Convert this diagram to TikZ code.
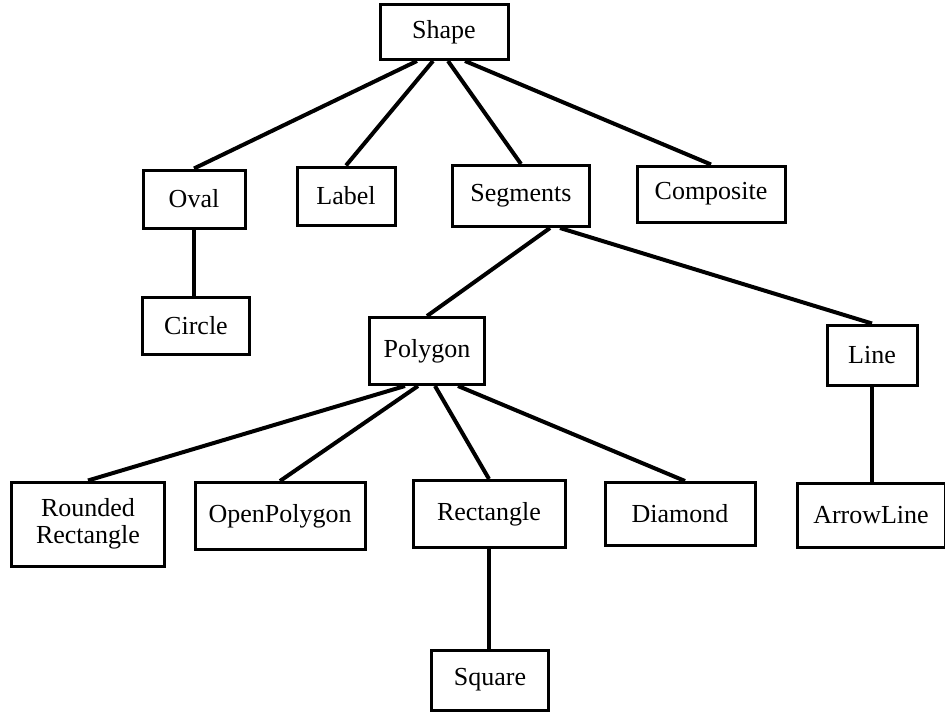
\documentclass[tikz,border=0pt]{standalone}
\usepackage{fontspec}
\setmainfont{Liberation Serif}
\begin{document}
\begin{tikzpicture}[x=1pt,y=-1pt,
  cls/.style={draw, line width=3pt, fill=white, inner sep=0pt,
    font=\fontsize{26}{27}\selectfont, align=center},
  link/.style={line width=4pt}]
\useasboundingbox (0,0) rectangle (945,717);
% class boxes
\node[cls, minimum width=128, minimum height=55] (shape) at (444,32) {Shape};
\node[cls, minimum width=102, minimum height=58] (oval) at (194,199) {Oval};
\node[cls, minimum width=98, minimum height=58] (label) at (346,196) {Label};
\node[cls, minimum width=137, minimum height=61] (segments) at (521,196) {Segments};
\node[cls, minimum width=148, minimum height=56] (composite) at (711,194) {Composite};
\node[cls, minimum width=107, minimum height=57] (circle) at (196,326) {Circle};
\node[cls, minimum width=115, minimum height=67] (polygon) at (427,351) {Polygon};
\node[cls, minimum width=90, minimum height=60] (line) at (872,355) {Line};
\node[cls, minimum width=153, minimum height=84] (rrect) at (88,524) {Rounded\\Rectangle};
\node[cls, minimum width=170, minimum height=67] (opoly) at (280,516) {OpenPolygon};
\node[cls, minimum width=152, minimum height=67] (rect) at (489,514) {Rectangle};
\node[cls, minimum width=150, minimum height=63] (diamond) at (680,514) {Diamond};
\node[cls, minimum width=148, minimum height=64] (arrowline) at (871,515) {ArrowLine};
\node[cls, minimum width=117, minimum height=60] (square) at (490,680) {Square};
% inheritance links
\draw[link] ([xshift=-27pt]shape.south) -- (oval.north);
\draw[link] ([xshift=-11pt]shape.south) -- (label.north);
\draw[link] ([xshift=4pt]shape.south) -- (segments.north);
\draw[link] ([xshift=21pt]shape.south) -- (composite.north);
\draw[link] ([xshift=29pt]segments.south) -- (polygon.north);
\draw[link] ([xshift=39pt]segments.south) -- (line.north);
\draw[link] (oval.south) -- (circle.north -| oval.south);
\draw[link] ([xshift=-22pt]polygon.south) -- (rrect.north);
\draw[link] ([xshift=-9pt]polygon.south) -- (opoly.north);
\draw[link] ([xshift=8pt]polygon.south) -- (rect.north);
\draw[link] ([xshift=31pt]polygon.south) -- ([xshift=5pt]diamond.north);
\draw[link] (line.south) -- (arrowline.north -| line.south);
\draw[link] (rect.south) -- (square.north -| rect.south);
\end{tikzpicture}
\end{document}
